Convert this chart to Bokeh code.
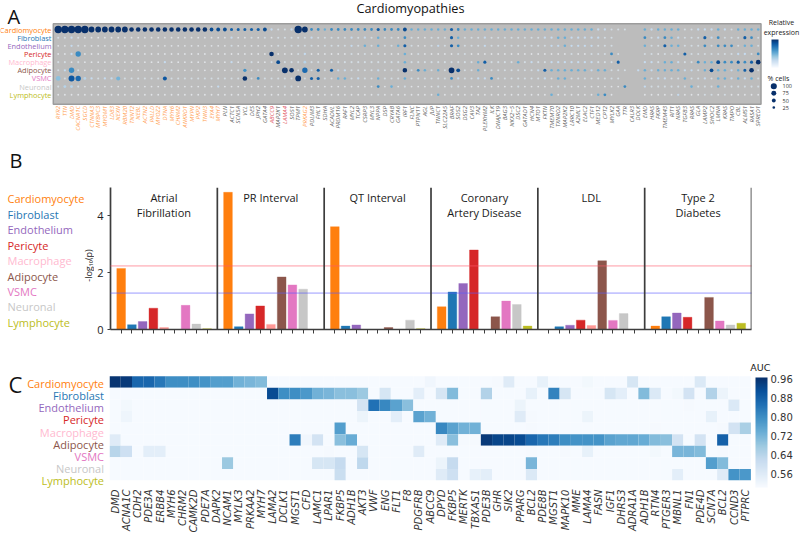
from math import pi
from bokeh.plotting import figure
from bokeh.embed import file_html
from bokeh.resources import INLINE
from bokeh.layouts import column, row as hrow
from bokeh.models import (ColumnDataSource, Label, Range1d, Span, FixedTicker,
                          LinearColorMapper, ColorBar, CustomJSTickFormatter)
from bokeh.core.properties import value
from bokeh.palettes import Blues256

FONT = "Open Sans"
cell_types = ["Cardiomyocyte", "Fibroblast", "Endothelium", "Pericyte", "Macrophage",
              "Adipocyte", "VSMC", "Neuronal", "Lymphocyte"]
type_colors = ["#ff7f0e", "#1f77b4", "#9467bd", "#d62728", "#ffb9cf",
               "#8c564b", "#e377c2", "#c7c7c7", "#bcbd22"]
bar_colors = ["#ff7f0e", "#1f77b4", "#9467bd", "#d62728", "#ff9896",
              "#8c564b", "#e377c2", "#c7c7c7", "#bcbd22"]

# ---- Panel A data
genes_a = ["RYR2","TTN","DMD","CACNA1C","SGCD","CTNNA3","MYBPC3","MYOM1","LDB3","NEXN","RBM20","TNNT2","NEBL",
 "ACTN2","PALLD","MYOZ2","DTNA","MYH6","CHRM2","ANKRD1","MYPN","PKP2","TNNI3","EYA4","MYH7","PLN","ACTC1","SCN5A",
 "VCL","DES","JPH2","GATA4","ABCC9","MAP2K1","LAMA4","SOS1","TPM1","PRKAG2","PDLIM3","FHL1","SDHA","ACADVL","PRDM16",
 "RAF1","MYL2","TCAP","CSRP3","MYL3","NPPA","DSP","CRYAB","GATA6","IRF1","FLNC","PTPN11","AGL","JUP","TNNC1","SLC22A5",
 "BRAF","SOS2","DSG2","CAV3","TAZ","PLEKHM2","ILK","DNAJC19","BAG3","NKX2\u22125","DSC2","GATAD1","HCN4","MTO1","FKTN",
 "TMEM70","TXNRD2","MAP2K2","LRRC10","A2ML1","ELAC2","CTF1","MED12","CPT2","MYLK2","GAA","TTR","CALR3","DOLK","EMD",
 "HRAS","FKRP","TMEM43","RIT1","NRAS","TGFB3","RRAS","GLA","LAMP2","SHOC2","LMNA","KRAS","TMPO","CBL","ALMS1","RASA1","SPRED1"]
orange_genes = genes_a[:25] + ["PRKAG2"]
red_genes = ["ABCC9", "LAMA4"]

# each character = one dot's reading (percent of cells, relative expression), see dot_levels
dots_cardio = "9999988888"+"8777777777"+"7776665555"+"5621129844"+"3444444454"+"4463333335"+"4333333333"+"3333333333"+"322111..32"+"3333112223"+"213333"
dots_fibro  = "1121000000"+"0000000000"+"0000002001"+"0101111121"+"1111212131"+"1041001115"+"3111211111"+"1112233222"+"2211....41"+"2432111524"+"111541"
dots_endo   = "0021000000"+"0000000000"+"0000001000"+"0001011110"+"1111213131"+"1351001215"+"4111211111"+"1111223222"+"2111....31"+"1533111414"+"441331"
dots_peri   = "002b000000"+"0000000000"+"0000000000"+"0070001200"+"0000101010"+"0030100000"+"1100000000"+"0000000100"+"11141...11"+"0111511111"+"112214"
dots_macro  = "1101000000"+"0000002000"+"0000002001"+"0016111g11"+"1111111111"+"1131111111"+"1113511113"+"1211222222"+"21115...22"+"1332114336"+"445457"
dots_adipo  = "12b1000000"+"0000001100"+"00000001c0"+"1100871e15"+"1522111121"+"1171431318"+"6113111111"+"1125333333"+"233111.232"+"3333221363"+"323571"
dots_vsmc   = "a1deg2122h"+"111111f111"+"1111111171"+"4111118155"+"1133121131"+"1131111114"+"2112241111"+"1112133111"+"11111...31"+"2211311213"+"323231"
dots_neuro  = "1gg1000000"+"0000000100"+"0000200000"+"0000110000"+"0000000040"+"3010000101"+"1000000001"+"0000011000"+"000004..21"+"1111131113"+"111111"
dots_lymph  = "0000000000"+"0000000000"+"0000000000"+"0000000000"+"0000000010"+"0000000300"+"0000000000"+"0000300000"+"0340....00"+"0002000110"+"100000"
dot_rows = [dots_cardio, dots_fibro, dots_endo, dots_peri, dots_macro, dots_adipo, dots_vsmc, dots_neuro, dots_lymph]
dot_levels = {"0": (4,.02), "1": (8,.12), "2": (12,.25), "3": (16,.50), "4": (20,.65), "5": (26,.82),
              "6": (38,.90), "7": (52,1.0), "8": (72,1.0), "9": (100,1.0),
              "a": (55,.42), "b": (65,.65), "c": (30,.62), "d": (75,.85), "e": (65,.78),
              "f": (42,.85), "g": (20,.30), "h": (42,.48)}
legend_pct = [100, 75, 50, 25]

# ---- Panel B data
traits = [["Atrial", "Fibrillation"], ["PR Interval"], ["QT Interval"], ["Coronary", "Artery Disease"], ["LDL"], ["Type 2", "Diabetes"]]
p_atrial = [2.15, .17, .28, .75, .07, 0, .85, .19, .03]
p_pr     = [4.83, .10, .55, .83, .18, 1.85, 1.57, 1.42, 0]
p_qt     = [3.62, .12, .16, 0, 0, .07, 0, .33, .03]
p_cad    = [.80, 1.32, 1.62, 2.80, 0, .45, 1.00, .88, .12]
p_ldl    = [0, .10, .15, .33, .14, 2.42, .32, .56, 0]
p_t2d    = [.12, .45, .58, .43, 0, 1.13, .30, .16, .22]
trait_values = [p_atrial, p_pr, p_qt, p_cad, p_ldl, p_t2d]
thresh_red, thresh_blue = 2.24, 1.28

# ---- Panel C data
genes_c = ["DMD","ACNA1C","CDH2","PDE3A","ERBB4","MYH6","CHRM2","CAMK2D","PDE7A","DAPK2","NCAM1","MYLK3","PRKAA2","MYH7",
 "LAMA2","DCLK1","MGST1","CFD","LAMC1","LPAR1","FKBP5","ADH1B","AKT3","VWF","ENG","FLT1","F8","PDGFRB","ABCC9","DPYD",
 "FKBP5","MERTK","TBXAS1","PDE3B","GHR","SIK2","PPARG","BCL2","PDE8B","MGST1","MAPK10","MME","LAMA4","FASN","IGF1",
 "DHRS3","ADRA1A","ADH1B","RTN4","PTGER3","MBNL1","FN1","PDE4D","SCN7A","BCL2","CCND3","PTPRC"]
auc_base = .505
auc_cardio = {0:.96,1:.95,2:.87,3:.87,4:.84,5:.80,6:.80,7:.80,8:.79,9:.77,10:.77,11:.73,12:.72,13:.71,28:.52,34:.51,35:.56,38:.54,42:.515,46:.58,52:.57}
auc_fibro  = {14:.92,15:.80,16:.80,17:.78,18:.73,19:.72,20:.70,21:.70,22:.68,24:.58,27:.55,29:.58,30:.71,33:.65,37:.54,39:.82,40:.58,44:.58,45:.55,47:.71,48:.57,50:.515,51:.59,53:.65,54:.53}
auc_endo   = {1:.515,22:.59,23:.85,24:.81,25:.76,26:.70,36:.53,51:.51,55:.57}
auc_peri   = {1:.525,22:.53,25:.55,27:.76,28:.73,36:.56,37:.51,42:.53,53:.54}
auc_macro  = {20:.77,29:.81,30:.76,31:.73,32:.73,37:.51,48:.51,54:.51,55:.59,56:.66}
auc_adipo  = {0:.56,16:.83,17:.52,18:.59,20:.70,21:.74,29:.56,30:.70,31:.51,32:.51,33:.95,34:.93,35:.93,36:.92,37:.87,38:.84,39:.83,40:.80,41:.79,42:.79,43:.79,44:.76,45:.75,46:.75,47:.74,48:.71,49:.70,50:.59,52:.59,54:.88}
auc_vsmc   = {0:.64,1:.60,3:.55,4:.55,19:.51,22:.58,27:.56,37:.51,40:.51,42:.54,48:.515,50:.72,51:.72,52:.71,54:.51}
auc_neuro  = {10:.68,18:.58,19:.58,20:.62,22:.63,29:.53,30:.62,37:.72,53:.77,54:.71}
auc_lymph  = {20:.61,29:.56,30:.60,32:.54,33:.55,37:.57,50:.55,54:.56,55:.79,56:.78}
auc_rows = [auc_cardio, auc_fibro, auc_endo, auc_peri, auc_macro, auc_adipo, auc_vsmc, auc_neuro, auc_lymph]
auc_ticks = [.56, .64, .72, .80, .88, .96]

blues = list(reversed(Blues256))

def text_panel(w, h, top_px):
    """Blank strip that holds the row names; its scales run in page pixels."""
    f = figure(width=w, height=h, x_range=Range1d(0, w), y_range=Range1d(top_px + h, top_px),
               x_axis_location=None, y_axis_location=None, toolbar_location=None, output_backend="svg",
               min_border=0, min_border_left=0, min_border_right=0, min_border_top=0, min_border_bottom=0,
               outline_line_color=None, frame_align=False)
    f.grid.visible = False
    return f

# ================= Panel A
H_A, col_px, row_px, x0_px, y0_px = 143, 700/105, 8.16, 57.7, 29.0
colx = lambda px: (px - x0_px) / col_px
rowy = lambda px: (px - y0_px) / row_px
a = figure(width=800, height=H_A, x_range=Range1d(colx(0), colx(800)), y_range=Range1d(rowy(H_A), rowy(0)),
           x_axis_location=None, y_axis_location=None, toolbar_location=None, output_backend="svg",
           min_border=0, min_border_left=0, min_border_right=0, min_border_top=0, min_border_bottom=0,
           outline_line_color=None, frame_align=False)
a.grid.visible = False
a.quad(left=colx(52.8), right=colx(760.5), top=rowy(23.2), bottom=rowy(103.7),
       fill_color="#bcbcbc", line_color="#9c9c9c", line_width=1.5)
xs, ys, sizes, exprs, alphas = [], [], [], [], []
for r, dots in enumerate(dot_rows):
    for k, ch in enumerate(dots):
        if ch == ".":
            continue
        pct, ex = dot_levels[ch]
        xs.append(k); ys.append(r); sizes.append(1.6 + pct * .058); exprs.append(ex)
        alphas.append(.65 if ex < .2 else 1)
dot_map = LinearColorMapper(palette=blues, low=0, high=1)
src_dots = ColumnDataSource(dict(x=xs, y=ys, s=sizes, e=exprs, al=alphas))
a.scatter("x", "y", size="s", source=src_dots, fill_color={"field": "e", "transform": dot_map}, fill_alpha="al", line_color=None)

a.text(x=[colx(51)] * 9, y=list(range(9)), text=cell_types, text_color=type_colors, text_align="right",
       text_baseline="middle", text_font=value(FONT), text_font_size="7.4px")
gene_cols = ["#ff9a4a" if g in orange_genes else "#e0505a" if g in red_genes else "#5a5a5a" for g in genes_a]
a.text(x=list(range(len(genes_a))), y=[rowy(105.5)] * len(genes_a), text=genes_a, text_color=gene_cols, angle=pi / 2,
       text_align="right", text_baseline="middle", text_font=value(FONT), text_font_style="italic", text_font_size="6px")
a.text(x=[colx(410)], y=[rowy(7.5)], text=["Cardiomyopathies"], text_align="center", text_baseline="middle",
       text_font=value(FONT), text_font_size="12.7px", text_color="#111111")
a.text(x=[colx(781), colx(781), colx(778)], y=[rowy(21.5), rowy(32), rowy(78)], text=["Relative", "expression", "% cells"],
       text_align="center", text_baseline="middle", text_font=value(FONT), text_font_size="7px", text_color="#222222")
leg_y = [rowy(v) for v in (85.7, 92.7, 100, 107)]
a.scatter(x=[colx(773.3)] * 4, y=leg_y, size=[1.6 + v * .045 for v in legend_pct], fill_color="#08306b", line_color=None)
a.text(x=[colx(782)] * 4, y=leg_y, text=[str(v) for v in legend_pct], text_baseline="middle",
       text_font=value(FONT), text_font_size="5.5px", text_color="#333333")
a.add_layout(Label(x=7, y=H_A - 16, x_units="screen", y_units="screen", text="A", text_font=FONT,
                   text_font_size="20px", text_color="#111111", text_baseline="alphabetic"))
a.add_layout(ColorBar(color_mapper=LinearColorMapper(palette=blues, low=0, high=1), location=(771, H_A - 67), width=7, height=28,
                      padding=0, margin=0, ticker=FixedTicker(ticks=[]), major_tick_line_color=None,
                      minor_tick_line_color=None, bar_line_color=None, border_line_color=None, background_fill_color=None))

# ================= Panel B
H_B, PX_TOP_B = 209, 143
W_LB = 94
bar_px, panel_px, lead_px = 10.77, 107.17, 10.7
start_b = -lead_px / bar_px
per = panel_px / bar_px
b = figure(width=800 - W_LB, height=H_B, x_range=Range1d(start_b, start_b + 643 / bar_px), y_range=Range1d(0, 5),
           toolbar_location=None, output_backend="svg", min_border_left=108 - W_LB, min_border_right=49,
           min_border_top=44, min_border_bottom=23, outline_line_color=None, frame_align=False)
b.grid.visible = False
bx, bt, bc = [], [], []
for g, vals in enumerate(trait_values):
    for i, v in enumerate(vals):
        bx.append(g * per + i); bt.append(v); bc.append(bar_colors[i])
b.vbar(x=bx, top=bt, bottom=0, width=.81, fill_color=bc, line_color=bc, line_alpha=.35, line_width=1)
for yv, col in ((thresh_red, "#ff5a6a"), (thresh_blue, "#5a5aff")):
    b.add_layout(Span(location=yv, dimension="width", line_color=col, line_alpha=.7, line_width=1.7, line_dash="1 1"))
for g in range(1, 7):
    b.add_layout(Span(location=start_b + g * per, dimension="height", line_color="#3d3d3d", line_width=1.7))
b.xaxis.ticker = FixedTicker(ticks=bx)
b.xaxis.formatter = CustomJSTickFormatter(code="return ''")
b.xaxis.major_tick_out, b.xaxis.major_tick_in = 4, 0
b.xaxis.minor_tick_line_color = None
b.xaxis.axis_line_color = "#3d3d3d"; b.xaxis.axis_line_width = 1.7
b.xaxis.major_tick_line_color = "#3d3d3d"
b.yaxis.ticker = FixedTicker(ticks=[0, 2, 4])
b.yaxis.minor_tick_line_color = None
b.yaxis.major_tick_out, b.yaxis.major_tick_in = 3, 0
b.yaxis.major_label_standoff = 4
b.yaxis.axis_line_color = "#3d3d3d"; b.yaxis.axis_line_width = 1.7
b.yaxis.major_tick_line_color = "#3d3d3d"
b.yaxis.major_label_text_font = FONT
b.yaxis.major_label_text_font_size = "11px"
b.yaxis.major_label_text_color = "#222222"
tx, ty, tt = [], [], []
for g, lines in enumerate(traits):
    for k, line in enumerate(lines):
        tx.append(start_b + (g + .5) * per); ty.append(4.66 - k * .53); tt.append(line)
b.text(x=tx, y=ty, text=tt, text_align="center", text_baseline="middle", text_font=value(FONT),
       text_font_size="11px", text_color="#1a1a1a")

lb = text_panel(W_LB, H_B, PX_TOP_B)
leg_px = [198.3, 214, 229, 244.7, 260, 275.7, 291, 306.3, 322]
lb.text(x=[7] * 9, y=leg_px, text=cell_types, text_color=type_colors, text_baseline="middle",
        text_font=value(FONT), text_font_size="11px")
lb.text(x=[88], y=[265], text=["-log\u2081\u2080(p)"], angle=pi / 2, text_align="center", text_baseline="middle",
        text_font=value(FONT), text_font_size="9px", text_color="#222222")
lb.text(x=[9], y=[160], text=["B"], text_baseline="alphabetic", text_font=value(FONT), text_font_size="20px", text_color="#111111")

# ================= Panel C
H_C, PX_TOP_C, W_LC = 183, 352, 105
cell_w, cell_h = 641.4 / 57, 110 / 9
c = figure(width=800 - W_LC, height=H_C, x_range=Range1d(-.5, -.5 + 691 / cell_w),
           y_range=Range1d(8.5, -.5 - 25 / cell_h), toolbar_location=None,
           output_backend="svg", min_border_left=109 - W_LC, min_border_right=0, min_border_top=0, min_border_bottom=48,
           outline_line_color=None, y_axis_location=None, frame_align=False)
c.grid.visible = False
hx, hy, hv = [], [], []
for r, vals in enumerate(auc_rows):
    for k in range(len(genes_c)):
        hx.append(k); hy.append(r); hv.append(vals.get(k, auc_base))
heat_map = LinearColorMapper(palette=blues, low=.503, high=.968)
c.rect("x", "y", width=1, height=1, source=ColumnDataSource(dict(x=hx, y=hy, v=hv)),
       fill_color={"field": "v", "transform": heat_map}, line_color=None)
c.xaxis.ticker = FixedTicker(ticks=list(range(len(genes_c))))
c.xaxis.major_label_overrides = {i: g for i, g in enumerate(genes_c)}
c.xaxis.major_label_orientation = pi / 2
c.xaxis.major_label_text_font = "DejaVu Sans"
c.xaxis.major_label_text_font_style = "italic"
c.xaxis.major_label_text_font_size = "10px"
c.xaxis.major_label_text_color = "#333333"
c.xaxis.major_label_standoff = 3
c.xaxis.major_tick_line_color = None
c.xaxis.minor_tick_line_color = None
c.xaxis.axis_line_color = None
c.add_layout(ColorBar(color_mapper=heat_map, location=(646, -7), width=12, height=110, padding=0, margin=0,
                      ticker=FixedTicker(ticks=auc_ticks), major_label_overrides={t: f"{t:.2f}" for t in auc_ticks},
                      major_label_text_font="DejaVu Sans", major_label_text_font_size="10px",
                      major_label_text_color="#333333", major_tick_line_color=None, minor_tick_line_color=None,
                      bar_line_color=None, border_line_color=None, background_fill_color=None, label_standoff=3))
c.text(x=[56.45], y=[-1.29], text=["AUC"], text_baseline="middle", text_font=value("DejaVu Sans"),
       text_font_size="9.5px", text_color="#222222")
lc = text_panel(W_LC, H_C, PX_TOP_C)
lc.text(x=[103.5] * 9, y=[382.8 + 12.2 * r for r in range(9)], text=cell_types, text_color=type_colors, text_align="right",
        text_baseline="middle", text_font=value(FONT), text_font_size="11px")
lc.text(x=[8], y=[383], text=["C"], text_baseline="alphabetic", text_font=value(FONT), text_font_size="22px", text_color="#111111")

page = column(a, hrow(lb, b, spacing=0), hrow(lc, c, spacing=0), spacing=0)
open("out.html", "w").write(file_html(page, INLINE))
